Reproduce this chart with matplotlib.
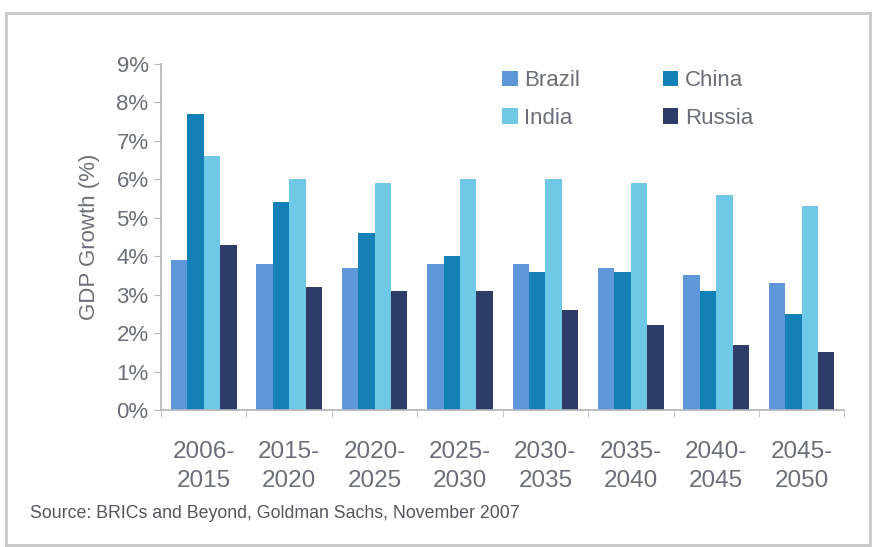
import numpy as np
import matplotlib
matplotlib.use("Agg")
import matplotlib.pyplot as plt
from matplotlib.ticker import MultipleLocator, FuncFormatter
from matplotlib.patches import Rectangle

periods = ["2006-\n2015", "2015-\n2020", "2020-\n2025", "2025-\n2030",
           "2030-\n2035", "2035-\n2040", "2040-\n2045", "2045-\n2050"]
brazil = [3.9, 3.8, 3.7, 3.8, 3.8, 3.7, 3.5, 3.3]
china = [7.7, 5.4, 4.6, 4.0, 3.6, 3.6, 3.1, 2.5]
india = [6.6, 6.0, 5.9, 6.0, 6.0, 5.9, 5.6, 5.3]
russia = [4.3, 3.2, 3.1, 3.1, 2.6, 2.2, 1.7, 1.5]
source = "Source: BRICs and Beyond, Goldman Sachs, November 2007"

plt.rcParams['font.family'] = ['Liberation Sans', 'DejaVu Sans']
txtcol = '#6b6e7a'
axcol = '#b4b4b8'


def main():
    fig = plt.figure(figsize=(8.75, 5.47), dpi=100)
    ax = fig.add_axes([0.184, 0.2505, 0.781, 0.6325])

    x = np.arange(len(periods))
    w = 0.192
    series = [("Brazil", brazil, '#5e98da'),
              ("China", china, '#1380b8'),
              ("India", india, '#6fc8e6'),
              ("Russia", russia, '#2e3d68')]
    bars = {}
    for i, (name, vals, col) in enumerate(series):
        bars[name] = ax.bar(x + (i - 1.5) * w, vals, w, color=col, label=name)

    ax.set_xlim(-0.5, len(periods) - 0.5)
    ax.set_ylim(0, 9)
    ax.yaxis.set_major_locator(MultipleLocator(1))
    ax.yaxis.set_major_formatter(FuncFormatter(lambda v, p: "%d%%" % v))
    ax.set_xticks(x)
    ax.set_xticklabels(periods, fontsize=17.5, color=txtcol, linespacing=1.45)
    ax.set_xticks(np.arange(len(periods) + 1) - 0.5, minor=True)
    ax.tick_params(axis='x', which='major', length=0, pad=22)
    ax.tick_params(axis='x', which='minor', length=5, color=axcol, direction='out')
    ax.tick_params(axis='y', length=5, color=axcol, labelsize=16, labelcolor=txtcol, pad=4)

    for s in ['top', 'right']:
        ax.spines[s].set_visible(False)
    for s in ['left', 'bottom']:
        ax.spines[s].set_color(axcol)
        ax.spines[s].set_linewidth(1.2)

    ax.set_ylabel("GDP Growth (%)", fontsize=16, color=txtcol, labelpad=12)

    h = [bars["Brazil"], bars["India"], bars["China"], bars["Russia"]]
    lab = ["Brazil", "India", "China", "Russia"]
    leg = ax.legend(h, lab, ncol=2, loc='upper left', bbox_to_anchor=(0.47, 1.04),
                    frameon=False, fontsize=16, handlelength=0.7, handleheight=0.7,
                    handletextpad=0.3, columnspacing=3.7, labelspacing=0.75)
    for t in leg.get_texts():
        t.set_color(txtcol)

    fig.text(30 / 875, 1 - 514 / 547, source, fontsize=12.8, color='#555560',
             va='center', ha='left')

    # screenshot frame
    fig.patches.append(Rectangle((6 / 875, 1 - 545 / 547), 864 / 875, 532 / 547,
                                 transform=fig.transFigure, fill=False,
                                 edgecolor='#c8c8c8', linewidth=2))

    fig.savefig("out.png", dpi=100)


if __name__ == "__main__":
    main()
